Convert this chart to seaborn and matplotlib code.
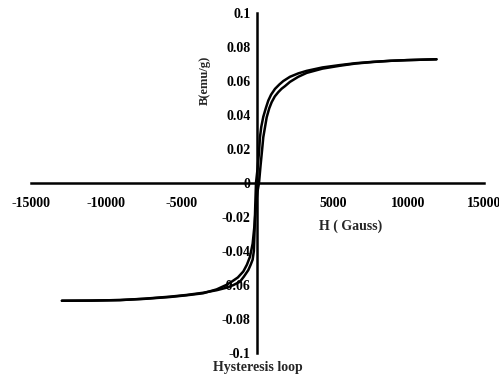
import matplotlib
matplotlib.use("Agg")
import matplotlib.pyplot as plt
import seaborn as sns
import pandas as pd
from matplotlib.ticker import FixedLocator, FuncFormatter

# Descending branch (from positive saturation to negative)
h_desc = [11850, 9900, 8800, 7650, 6500, 5460, 4300, 3260, 2700, 2150, 1710,
          1450, 1160, 900, 715, 550, 385, 250, 165, 100, 0, -100, -150, -200,
          -240, -320, -450, -610, -900, -1160, -1600, -2040, -2700, -3600,
          -4700, -5800, -7500, -9100, -11000, -12950]
b_desc = [0.0728, 0.0723, 0.0719, 0.0713, 0.0705, 0.0694, 0.0680, 0.0660,
          0.0645, 0.0625, 0.0600, 0.0580, 0.0554, 0.0520, 0.0485, 0.0440,
          0.0390, 0.0330, 0.0270, 0.0180, 0.0080, 0.0, -0.0140, -0.0300,
          -0.0400, -0.0450, -0.0480, -0.0512, -0.0550, -0.0580, -0.0600,
          -0.0615, -0.0630, -0.0645, -0.0658, -0.0668, -0.0680, -0.0688,
          -0.0691, -0.0692]

# Ascending branch (from negative saturation to positive)
h_asc = [-12950, -11000, -9100, -7500, -5800, -4700, -3600, -2700, -2040,
         -1710, -1300, -940, -700, -500, -320, -200, -100, 0, 100, 200, 300,
         385, 500, 610, 780, 940, 1150, 1380, 1600, 1820, 2150, 2700, 3260,
         4300, 5460, 6500, 7650, 8800, 9900, 11850]
b_asc = [-0.0692, -0.0691, -0.0688, -0.0681, -0.0670, -0.0660, -0.0648,
         -0.0625, -0.0598, -0.0580, -0.0555, -0.0520, -0.0480, -0.0434,
         -0.0356, -0.0250, -0.0130, -0.0050, 0.0, 0.0100, 0.0190, 0.0270,
         0.0330, 0.0387, 0.0440, 0.0476, 0.0510, 0.0535, 0.0555, 0.0570,
         0.0595, 0.0625, 0.0648, 0.0673, 0.0690, 0.0703, 0.0712, 0.0719,
         0.0723, 0.0728]

x_ticks = [-15000, -10000, -5000, 5000, 10000, 15000]
y_ticks = [-0.1, -0.08, -0.06, -0.04, -0.02, 0, 0.02, 0.04, 0.06, 0.08, 0.1]

x_label = "H ( Gauss)"
y_label = "B(emu/g)"
caption = "Hysteresis loop"

sns.set_style("white")
plt.rcParams['font.family'] = ['Liberation Serif', 'DejaVu Serif']
plt.rcParams['font.weight'] = 'bold'

df = pd.concat([
    pd.DataFrame({"H": h_desc, "B": b_desc, "branch": "desc"}),
    pd.DataFrame({"H": h_asc, "B": b_asc, "branch": "asc"}),
], ignore_index=True)

fig = plt.figure(figsize=(4.99, 3.83), dpi=100)
ax = fig.add_axes([0.062, 0.078, 0.908, 0.888])

sns.lineplot(data=df, x="H", y="B", hue="branch", palette=["black", "black"],
             sort=False, estimator=None, linewidth=1.8, legend=False, ax=ax)

ax.set_xlim(-15000, 15000)
ax.set_ylim(-0.1, 0.1)
ax.spines['left'].set_position(('data', 0))
ax.spines['bottom'].set_position(('data', 0))
ax.spines['right'].set_visible(False)
ax.spines['top'].set_visible(False)
for s in ('left', 'bottom'):
    ax.spines[s].set_linewidth(1.8)
    ax.spines[s].set_color('black')

ax.xaxis.set_major_locator(FixedLocator(x_ticks))
ax.yaxis.set_major_locator(FixedLocator(y_ticks))
ax.xaxis.set_major_formatter(FuncFormatter(lambda v, p: f"{v:g}"))
ax.yaxis.set_major_formatter(FuncFormatter(lambda v, p: f"{v:g}" if abs(v) > 1e-12 else "0"))
ax.tick_params(axis='x', direction='in', length=4, width=1.5, pad=10,
               labelsize=10, colors='black')
ax.tick_params(axis='y', direction='out', length=3, width=1.5, pad=2,
               labelsize=10, colors='black')
ax.set_xlabel("")
ax.set_ylabel("")

fig.text(351 / 499, 1 - 226 / 383, x_label, ha='center', va='center',
         fontsize=10, fontweight='bold')
fig.text(205 / 499, 1 - 80 / 383, y_label, ha='center', va='center',
         rotation=90, fontsize=9, fontweight='bold')
fig.text(258 / 499, 1 - 368 / 383, caption, ha='center', va='center',
         fontsize=10, fontweight='bold')

fig.savefig("out.png", dpi=100, facecolor='white')
